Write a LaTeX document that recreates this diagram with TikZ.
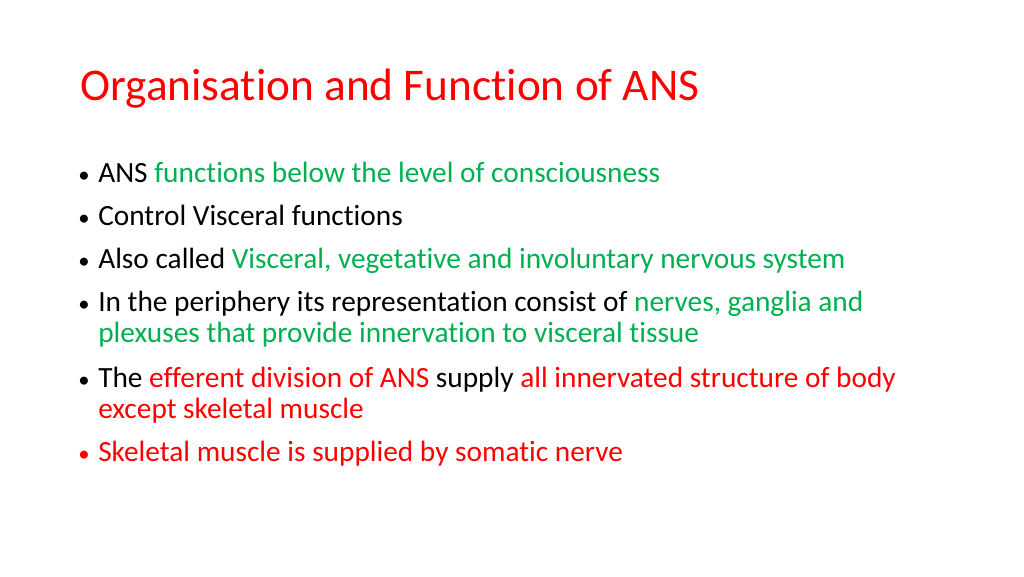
\documentclass[tikz,border=0pt]{standalone}
\usepackage{fontspec}
\setmainfont{Carlito}[RawFeature={-liga;-clig;-dlig}]
\definecolor{tred}{HTML}{FF0000}
\definecolor{tgreen}{HTML}{00B050}
\begin{document}
\begin{tikzpicture}[x=0.75pt,y=-0.75pt,
  line/.style={anchor=base west,inner sep=0pt,font=\fontsize{22}{26}\selectfont},
  bul/.style={anchor=base west,inner sep=0pt,font=\fontsize{17}{20}\selectfont}]
\useasboundingbox[fill=white] (0,0) rectangle (1024,576);
\node[anchor=base west,inner sep=0pt,text=tred,font=\fontsize{34}{40}\selectfont] (title) at (80,100) {Organisation and Function of ANS};
\node[bul] (b1) at (78,182) {•}; \node[line] (l1) at (98,182) {ANS \textcolor{tgreen}{functions below the level of consciousness}};
\node[bul] (b2) at (78,225) {•}; \node[line] (l2) at (98,225) {Control Visceral functions};
\node[bul] (b3) at (78,268) {•}; \node[line] (l3) at (98,268) {Also called \textcolor{tgreen}{Visceral, vegetative and involuntary nervous system}};
\node[bul] (b4) at (78,311) {•}; \node[line] (l4) at (98,311) {In the periphery its representation consist of \textcolor{tgreen}{nerves, ganglia and}};
\node[line,text=tgreen] (l4b) at (98,342) {plexuses that provide innervation to visceral tissue};
\node[bul] (b5) at (78,387) {•}; \node[line] (l5) at (98,387) {The \textcolor{tred}{efferent division of ANS} supply \textcolor{tred}{all innervated structure of body}};
\node[line,text=tred] (l5b) at (98,418) {except skeletal muscle};
\node[bul,text=tred] (b6) at (78,461) {•}; \node[line,text=tred] (l6) at (98,461) {Skeletal muscle is supplied by somatic nerve};
\end{tikzpicture}
\end{document}
